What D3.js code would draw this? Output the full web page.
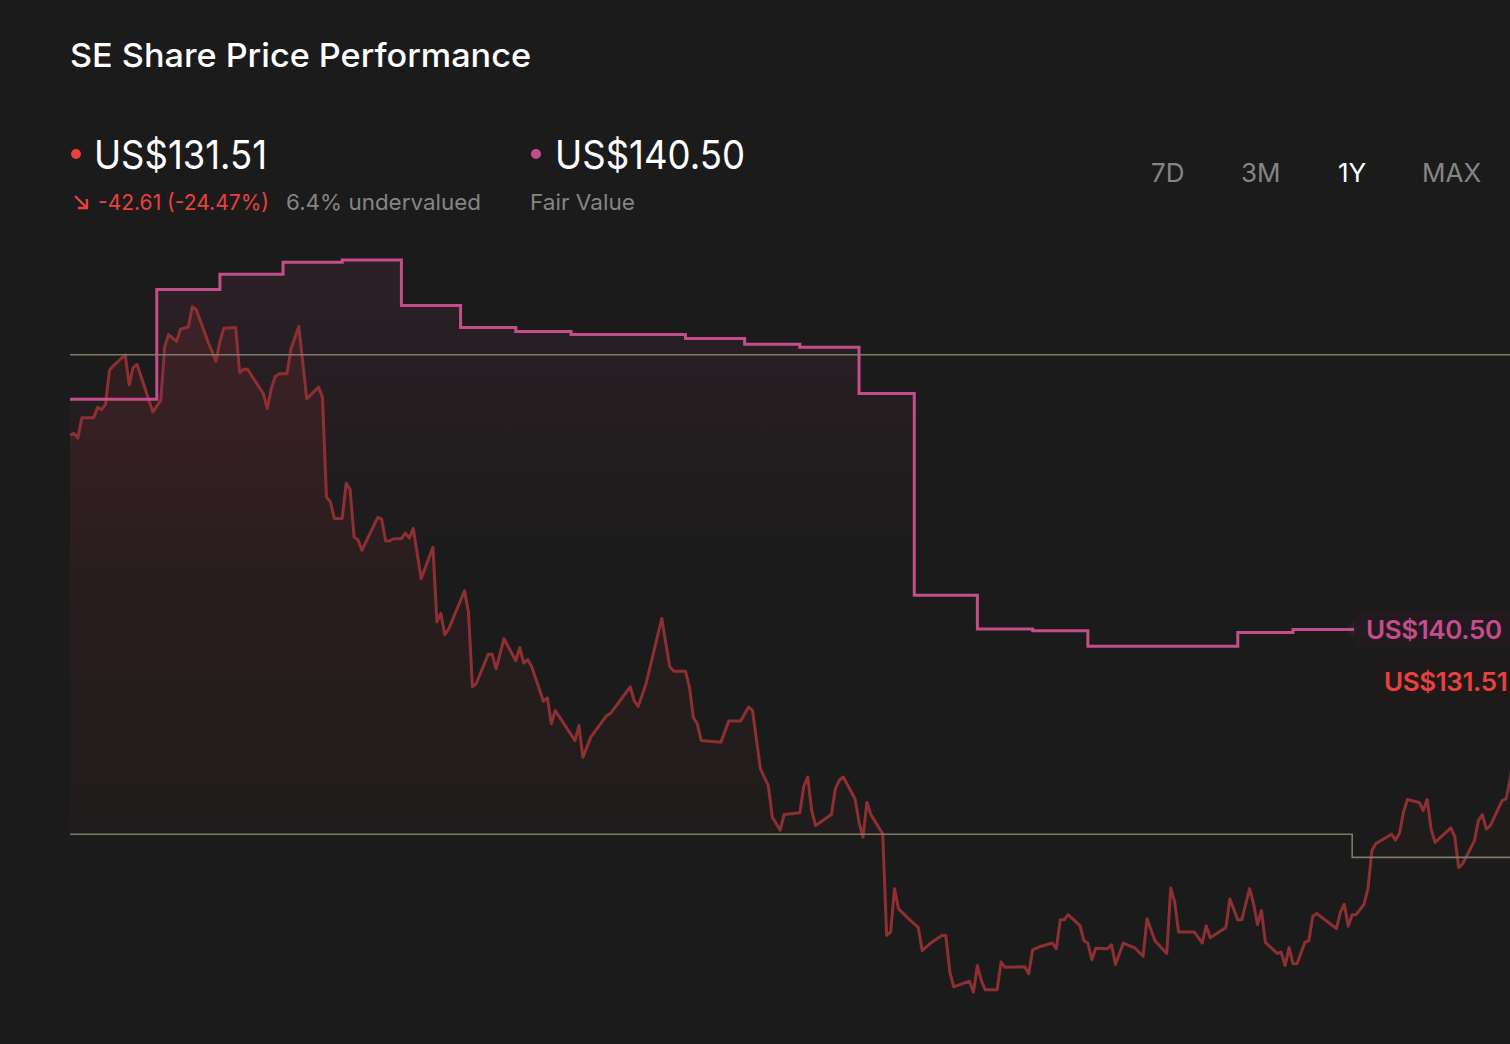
<!DOCTYPE html>
<html>
<head>
<meta charset="utf-8">
<script src="https://cdn.jsdelivr.net/npm/d3@7"></script>
<style>
    html, body { margin: 0; padding: 0; background: #1b1b1b; }
    svg { display: block; font-family: Inter, "Noto Sans", sans-serif; }
</style>
</head>
<body>
<div id="chart"></div>
<script>
const PRICE_COLOR = "#8e2f33";
const PRICE_TEXT_COLOR = "#e8413f";
const FAIR_COLOR = "#c44d8c";
const BAND_COLOR = "#7d7a69";
const MUTED_COLOR = "#858585";

// calendar days after the start of the 1Y window
const startDate = Date.UTC(2025, 1, 10);

const priceDays = [
    0, 1, 2, 3, 6, 7, 8, 9, 10, 11, 14, 15, 16, 17, 21, 23, 24, 25, 27, 28,
    30, 31, 32, 35, 37, 38, 39, 42, 43, 44, 45, 49, 50, 51, 52, 53, 55, 56, 58, 60,
    63, 64, 65, 66, 67, 69, 70, 71, 72, 73, 74, 78, 79, 80, 81, 82, 84, 85, 86, 87,
    89, 92, 93, 94, 95, 96, 100, 101, 102, 103, 106, 107, 108, 110, 113, 114, 115, 116, 117, 120,
    121, 122, 123, 128, 129, 130, 132, 136, 137, 139, 142, 143, 144, 146, 150, 152, 153, 156, 157, 158,
    159, 160, 165, 167, 170, 171, 172, 173, 175, 177, 178, 180, 181, 185, 186, 187, 188, 189, 193, 194,
    195, 196, 199, 200, 201, 202, 203, 206, 207, 208, 209, 210, 213, 215, 216, 218, 221, 222, 223, 224,
    228, 229, 230, 231, 232, 235, 236, 237, 242, 243, 244, 246, 249, 250, 251, 252, 253, 256, 257, 258,
    259, 260, 263, 264, 265, 267, 270, 272, 273, 275, 278, 279, 280, 281, 285, 287, 288, 289, 293, 294,
    296, 297, 299, 300, 301, 302, 303, 306, 307, 308, 309, 310, 311, 313, 314, 315, 316, 321, 322, 323,
    324, 325, 326, 328, 329, 330, 331, 335, 336, 337, 338, 339, 342, 343, 344, 345, 346, 350, 351, 352,
    353, 356, 357, 358, 359, 360, 363, 364, 365, 367, 369
];

const priceValues = [
    174.12, 174.4, 173.6, 177.1, 177.1, 178.9, 178.5, 179.4, 185.3, 186.1, 188.0, 182.8, 185.8, 186.3, 178.1, 180.1, 189.4, 191.5, 190.3, 192.4,
    192.8, 196.3, 195.8, 190.2, 186.9, 190.3, 192.6, 192.7, 184.9, 185.5, 185.5, 181.3, 178.7, 182.1, 184.2, 184.7, 184.7, 189.0, 192.9, 180.4,
    182.4, 180.6, 163.4, 162.6, 159.7, 159.7, 165.8, 164.7, 156.5, 156.0, 154.2, 159.9, 159.6, 155.8, 155.8, 156.2, 156.2, 157.2, 156.3, 158.0,
    149.3, 154.7, 141.8, 143.3, 139.6, 140.6, 147.2, 143.5, 130.6, 131.2, 136.2, 136.2, 133.7, 138.9, 135.1, 137.4, 134.7, 135.3, 134.1, 128.1,
    128.7, 124.2, 126.5, 121.3, 123.9, 118.4, 121.9, 125.6, 126.0, 127.8, 130.6, 128.2, 127.2, 131.1, 142.4, 134.1, 133.3, 133.3, 130.6, 125.3,
    124.2, 121.3, 121.0, 124.7, 124.7, 125.9, 127.1, 126.5, 116.4, 113.5, 108.1, 105.8, 108.5, 108.8, 113.4, 115.0, 109.2, 106.6, 108.5, 113.0,
    114.4, 115.0, 111.2, 107.2, 104.6, 110.6, 108.5, 105.2, 87.6, 88.2, 95.7, 92.2, 90.2, 89.0, 85.0, 86.2, 87.6, 87.6, 81.3, 78.7,
    79.7, 77.8, 82.4, 79.8, 78.2, 78.2, 83.0, 82.1, 82.2, 81.0, 85.1, 85.7, 86.3, 85.3, 90.3, 90.3, 91.2, 89.3, 86.7, 86.3,
    83.4, 85.4, 85.3, 86.0, 82.6, 86.3, 85.4, 84.0, 90.5, 86.7, 84.5, 95.8, 93.4, 88.2, 88.2, 86.3, 89.3, 87.2, 89.0, 93.9,
    90.3, 90.3, 95.7, 93.1, 89.5, 91.9, 86.4, 84.5, 84.7, 82.4, 85.5, 82.7, 82.7, 86.4, 86.7, 90.9, 91.4, 88.8, 91.6, 93.0,
    89.2, 91.2, 91.2, 93.0, 95.7, 102.3, 103.5, 105.1, 104.1, 105.3, 108.9, 111.1, 110.6, 109.2, 111.1, 106.0, 103.7, 106.2, 104.7, 99.3,
    100.0, 104.0, 107.5, 108.5, 106.0, 106.6, 110.9, 111.2, 114.4, 124.0, 131.51
];

const fairDays = [0, 22, 38, 54, 69, 84, 99, 113, 127, 156, 171, 185, 200, 214, 230, 244, 258, 296, 310, 326];
const fairValues = [180.3, 199.3, 201.9, 204.0, 204.4, 196.5, 192.7, 192.0, 191.5, 190.8, 189.8, 189.3, 181.3, 146.4, 140.6, 140.3, 137.6, 140.0, 140.5, 140.5];

const upperBandDays = [0, 369];
const upperBandValues = [188.0, 188.0];
const lowerBandDays = [0, 325, 369];
const lowerBandValues = [105.1, 101.1, 101.1];

const lastPrice = 131.51;
const fairValue = 140.50;
const priceChange = -42.61;
const priceChangePct = -24.47;
const undervaluedPct = 6.4;
const periods = ["7D", "3M", "1Y", "MAX"];
const activePeriod = "1Y";

const width = 1510;
const height = 1044;

function toSeries(days, values) {
    return days.map((d, i) => ({ date: new Date(startDate + d * 864e5), value: values[i] }));
}

const price = toSeries(priceDays, priceValues);
const fair = toSeries(fairDays, fairValues);
const upperBand = toSeries(upperBandDays, upperBandValues);
const lowerBand = toSeries(lowerBandDays, lowerBandValues);

const x = d3
    .scaleUtc()
    .domain([new Date(startDate), new Date(startDate + 365 * 864e5)])
    .range([70, 1510]);

// price 131.51 sits at 681px, fair value 140.50 at 629px
const y = d3
    .scaleLinear()
    .domain([lastPrice, fairValue])
    .range([681.5, 629.5]);

const svg = d3
    .select("#chart")
    .append("svg")
    .attr("width", width)
    .attr("height", height);

svg.append("rect")
    .attr("width", width)
    .attr("height", height)
    .attr("fill", "#1b1b1b");

const defs = svg.append("defs");

function addGradient(id, color, topOpacity, bottomOpacity, bottomValue) {
    const g = defs.append("linearGradient")
        .attr("id", id)
        .attr("gradientUnits", "userSpaceOnUse")
        .attr("x1", 0).attr("x2", 0)
        .attr("y1", y(205)).attr("y2", y(bottomValue));
    g.append("stop").attr("offset", 0).attr("stop-color", color).attr("stop-opacity", topOpacity);
    g.append("stop").attr("offset", 1).attr("stop-color", color).attr("stop-opacity", bottomOpacity);
}
addGradient("fairFill", FAIR_COLOR, 0.1, 0.0, 150);
addGradient("priceFill", "#9a2c34", 0.2, 0.03, 100);

defs.append("clipPath")
    .attr("id", "aboveBand")
    .append("path")
    .attr("d", d3.area()
        .x(d => x(d.date))
        .y0(0)
        .y1(d => y(d.value))
        .curve(d3.curveStepAfter)(lowerBand));

const glow = defs.append("filter").attr("id", "glow")
    .attr("x", "-100%").attr("y", "-100%").attr("width", "300%").attr("height", "300%");
glow.append("feGaussianBlur").attr("stdDeviation", 4);

const fills = svg.append("g").attr("clip-path", "url(#aboveBand)");

fills.append("path")
    .attr("d", d3.area()
        .x(d => x(d.date))
        .y0(height)
        .y1(d => y(d.value))
        .curve(d3.curveStepAfter)(fair))
    .attr("fill", "url(#fairFill)");

fills.append("path")
    .attr("d", d3.area()
        .x(d => x(d.date))
        .y0(height)
        .y1(d => y(d.value))(price))
    .attr("fill", "url(#priceFill)");

svg.append("path")
    .datum(price)
    .attr("d", d3.line().x(d => x(d.date)).y(d => y(d.value)))
    .attr("fill", "none")
    .attr("stroke", PRICE_COLOR)
    .attr("stroke-width", 3)
    .attr("stroke-linejoin", "round");

svg.append("path")
    .datum(fair)
    .attr("d", d3.line().x(d => x(d.date)).y(d => y(d.value)).curve(d3.curveStepAfter))
    .attr("fill", "none")
    .attr("stroke", FAIR_COLOR)
    .attr("stroke-width", 3);

[upperBand, lowerBand].forEach(band => {
    svg.append("path")
        .datum(band)
        .attr("d", d3.line().x(d => x(d.date)).y(d => y(d.value)).curve(d3.curveStepAfter))
        .attr("fill", "none")
        .attr("stroke", BAND_COLOR)
        .attr("stroke-width", 1.6);
});

// value tags on the right edge
function valueTag(value, left, fill, textColor, h, withGlow) {
    const cy = y(value);
    const tag = svg.append("g");
    if (withGlow) {
        tag.append("ellipse")
            .attr("cx", left + 6).attr("cy", cy)
            .attr("rx", 8).attr("ry", 5)
            .attr("fill", FAIR_COLOR).attr("opacity", 0.45)
            .attr("filter", "url(#glow)");
    }
    tag.append("rect")
        .attr("x", left).attr("y", cy - h / 2)
        .attr("width", width - left + 20).attr("height", h)
        .attr("rx", 5)
        .attr("fill", fill)
        .attr("fill-opacity", 0.92);
    tag.append("text")
        .attr("x", left + 12).attr("y", cy)
        .attr("dy", "0.36em")
        .attr("fill", textColor)
        .attr("font-size", 26)
        .attr("font-weight", 600)
        .attr("letter-spacing", -0.4)
        .text("US$" + value.toFixed(2));
}
valueTag(fairValue, 1354, "#241a21", FAIR_COLOR, 36, true);
valueTag(lastPrice, 1372, "#201a1a", PRICE_TEXT_COLOR, 42, false);

// header
svg.append("text")
    .attr("x", 70).attr("y", 67)
    .attr("fill", "#ffffff")
    .attr("font-size", 33)
    .attr("font-weight", 500)
    .attr("textLength", 461).attr("lengthAdjust", "spacingAndGlyphs")
    .text("SE Share Price Performance");

svg.append("circle").attr("cx", 76).attr("cy", 154).attr("r", 5).attr("fill", PRICE_TEXT_COLOR);
svg.append("text")
    .attr("x", 94).attr("y", 169)
    .attr("fill", "#ffffff")
    .attr("font-size", 40)
    .attr("textLength", 173).attr("lengthAdjust", "spacingAndGlyphs")
    .text("US$" + lastPrice.toFixed(2));

svg.append("circle").attr("cx", 536).attr("cy", 154).attr("r", 5).attr("fill", FAIR_COLOR);
svg.append("text")
    .attr("x", 555).attr("y", 169)
    .attr("fill", "#ffffff")
    .attr("font-size", 40)
    .attr("textLength", 190).attr("lengthAdjust", "spacingAndGlyphs")
    .text("US$" + fairValue.toFixed(2));

svg.append("path")
    .attr("d", "M75,196 L87,208 M87,199 L87,208 L78,208")
    .attr("fill", "none")
    .attr("stroke", PRICE_TEXT_COLOR)
    .attr("stroke-width", 2.4);

svg.append("text")
    .attr("x", 98).attr("y", 210)
    .attr("fill", PRICE_TEXT_COLOR)
    .attr("font-size", 22)
    .attr("textLength", 171).attr("lengthAdjust", "spacingAndGlyphs")
    .text(priceChange.toFixed(2) + " (" + priceChangePct.toFixed(2) + "%)");

svg.append("text")
    .attr("x", 286).attr("y", 210)
    .attr("fill", MUTED_COLOR)
    .attr("font-size", 22)
    .attr("textLength", 195).attr("lengthAdjust", "spacingAndGlyphs")
    .text(undervaluedPct + "% undervalued");

svg.append("text")
    .attr("x", 530).attr("y", 210)
    .attr("fill", MUTED_COLOR)
    .attr("font-size", 22)
    .attr("textLength", 105).attr("lengthAdjust", "spacingAndGlyphs")
    .text("Fair Value");

// period tabs, left edges as laid out in the header
const tabLeft = [1151, 1241, 1338, 1422];
svg.append("g")
    .selectAll("text")
    .data(periods)
    .join("text")
    .attr("x", (d, i) => tabLeft[i])
    .attr("y", 182)
    .attr("font-size", 26)
    .attr("fill", d => d == activePeriod ? "#ffffff" : MUTED_COLOR)
    .text(d => d);
</script>
</body>
</html>
